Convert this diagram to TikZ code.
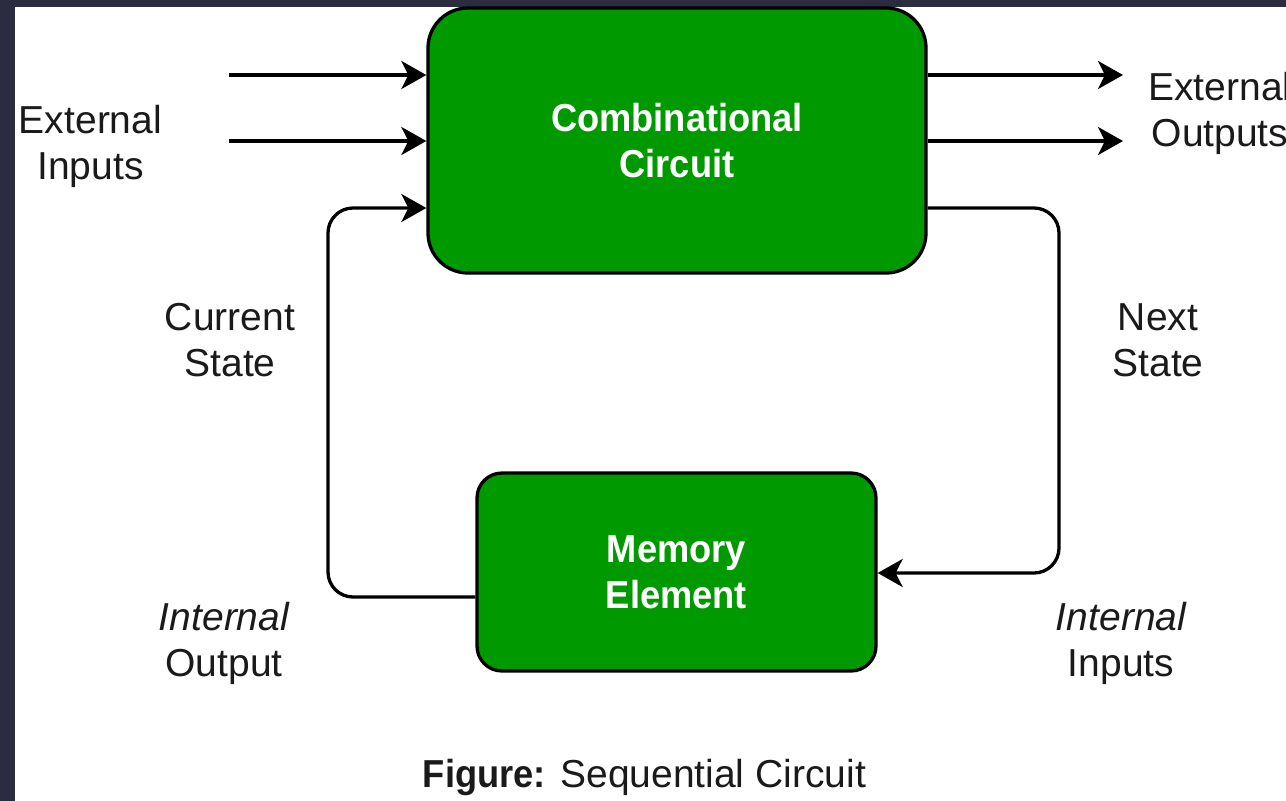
\documentclass[tikz,border=0pt]{standalone}
\usepackage{fontspec}
\setmainfont{Liberation Sans}[BoldFeatures={FakeStretch=0.93}]
\usetikzlibrary{arrows.meta}
\definecolor{frame}{HTML}{2B2C40}
\definecolor{blockgreen}{HTML}{009900}
\definecolor{ink}{HTML}{1A1A1A}
\tikzset{
  block/.style={draw=black, line width=3.3pt, fill=blockgreen, text=white,
    font=\fontsize{39}{46}\selectfont\bfseries, align=center, inner sep=0pt},
  % anchored at the baseline of the last line
  lbl/.style={text=ink, font=\fontsize{39}{46}\selectfont, align=center,
    anchor=base, inner sep=0pt},
  wire/.style={line width=3.3pt, draw=black},
  arr/.style={wire, -{Stealth[length=25pt, width=28pt, inset=7pt]}},
}
\begin{document}
\begin{tikzpicture}[x=1pt, y=-1pt]
  \useasboundingbox (0,0) rectangle (1286,801);
  \fill[white] (0,0) rectangle (1286,801);
  % dark frame strips along the top and the left edge
  \fill[frame] (0,0) rectangle (1286,7);
  \fill[frame] (0,0) rectangle (15,801);

  % the two blocks
  \node[block, rounded corners=40pt, minimum width=498pt, minimum height=265pt]
    (comb) at (677,140.5) {Combinational\\Circuit};
  \node[block, rounded corners=25pt, minimum width=399pt, minimum height=198pt]
    (mem) at (676.5,572) {Memory\\Element};

  % free ends of the external lines and the corners of the feedback loop
  \coordinate (in1) at (229,75);
  \coordinate (in2) at (229,141);
  \coordinate (out1) at (1123,75);
  \coordinate (out2) at (1123,141);
  \coordinate (lt) at (328,208);
  \coordinate (lb) at (328,597);
  \coordinate (rt) at (1059,208);
  \coordinate (rb) at (1059,573);

  % external inputs and outputs
  \draw[arr] (in1) -- (in1 -| comb.west);
  \draw[arr] (in2) -- (in2 -| comb.west);
  \draw[arr] (out1 -| comb.east) -- (out1);
  \draw[arr] (out2 -| comb.east) -- (out2);

  % current state: memory output back into the combinational circuit
  \draw[arr, rounded corners=25pt] (lb -| mem.west) -- (lb) -- (lt) -- (lt -| comb.west);
  % next state: combinational output into the memory element
  \draw[arr, rounded corners=25pt] (rt -| comb.east) -- (rt) -- (rb) -- (rb -| mem.east);

  % labels
  \node[lbl] (extin) at (90.5,179) {External\\Inputs};
  \node[lbl] (extout) at (1220,146) {External\\Outputs};
  \node[lbl] (cur) at (230,376) {Current\\State};
  \node[lbl] (nxt) at (1158,376) {Next\\State};
  \node[lbl] (intout) at (224,676) {\itshape Internal\\Output};
  \node[lbl] (intin) at (1121,676) {\itshape Internal\\Inputs};
  \node[lbl] (cap) at (644.5,787) {\textbf{Figure:} Sequential Circuit};
\end{tikzpicture}
\end{document}
